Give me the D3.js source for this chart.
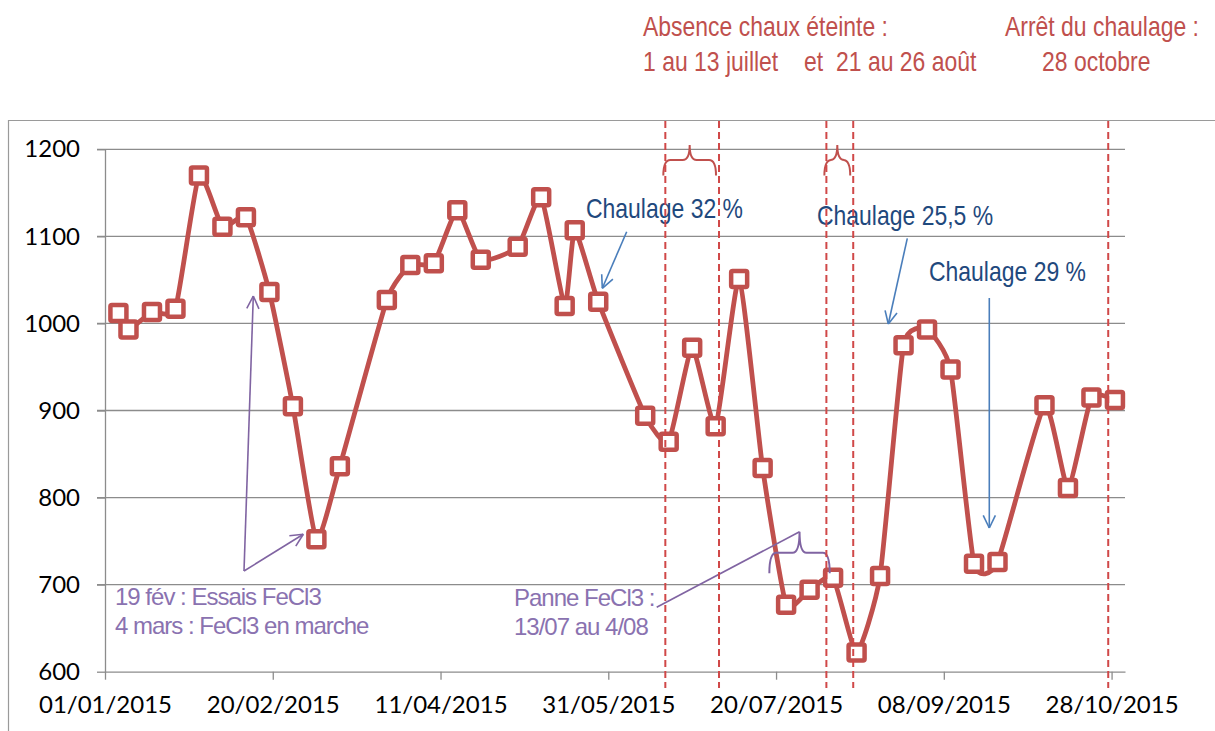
<!DOCTYPE html>
<html>
<head>
<meta charset="utf-8">
<script src="https://cdn.jsdelivr.net/npm/d3@7"></script>
<style>
  html, body { margin: 0; padding: 0; background: #ffffff; }
  svg { display: block; }
  .narrow { font-family: "Liberation Sans", Arial, sans-serif; }
  .tick text { font-family: Lato, "Open Sans", sans-serif; font-size: 24px; fill: #000; }
</style>
</head>
<body>
<script>
// ---------------- DATA ----------------
const dates = ["2015-01-05","2015-01-08","2015-01-15","2015-01-22","2015-01-29","2015-02-05","2015-02-12","2015-02-19","2015-02-26","2015-03-05","2015-03-12","2015-03-26","2015-04-02","2015-04-09","2015-04-16","2015-04-23","2015-05-04","2015-05-11","2015-05-18","2015-05-21","2015-05-28","2015-06-11","2015-06-18","2015-06-25","2015-07-02","2015-07-09","2015-07-16","2015-07-23","2015-07-30","2015-08-06","2015-08-13","2015-08-20","2015-08-27","2015-09-03","2015-09-10","2015-09-17","2015-09-24","2015-10-08","2015-10-15","2015-10-22","2015-10-29"];
const values = [1012, 993, 1013, 1017, 1170, 1111, 1122, 1036, 905, 752, 836, 1027, 1067, 1069, 1130, 1073, 1088, 1145, 1020, 1107, 1025, 894, 864, 972, 882, 1051, 834, 677, 694, 708, 622, 710, 975, 993, 947, 724, 726, 906, 811, 915, 912];
const threshold = 1000;
const yTicks = [600, 700, 800, 900, 1000, 1100, 1200];
const xTickDates = ["2015-01-01","2015-02-20","2015-04-11","2015-05-31","2015-07-20","2015-09-08","2015-10-28"];
const xDomain = ["2015-01-01","2015-11-01"];
const yDomain = [600, 1200];
// vertical dashed event lines (chaux éteinte absence / arrêt chaulage)
const eventDates = ["2015-06-17","2015-07-03","2015-08-04","2015-08-12","2015-10-27"];
// absence periods (braces) : pairs of event dates
const absencePeriods = [["2015-06-17","2015-07-03"],["2015-08-04","2015-08-12"]];
// FeCl3 breakdown period
const panneFeCl3 = ["2015-07-18","2015-08-05"];
const topTexts = ["Absence chaux éteinte :", "1 au 13 juillet", "et", "21 au 26 août", "Arrêt du chaulage :", "28 octobre"];
const chaulageLabels = ["Chaulage 32 %", "Chaulage 25,5 %", "Chaulage 29 %"];
const fecl3Labels = ["19 fév : Essais FeCl3", "4 mars : FeCl3 en marche"];
const panneLabels = ["Panne FeCl3 :", "13/07 au 4/08"];

// ---------------- SETUP ----------------
const W = 1215, H = 731;
const parse = s => new Date(s + "T00:00:00Z");
const data = dates.map((d, i) => ({ date: parse(d), value: values[i] }));

const RED = "#c0504d", BLUE_T = "#1f497d", BLUE_L = "#4a7ebb", PURPLE = "#8064a2", PURPLE_T = "#8a72b0", GRID = "#8c8c8c";

const svg = d3.select("body").append("svg").attr("width", W).attr("height", H);

const defs = svg.append("defs");
const f = defs.append("filter").attr("id", "shadow").attr("x", "-5%").attr("y", "-200%").attr("width", "110%").attr("height", "500%");
f.append("feGaussianBlur").attr("in", "SourceAlpha").attr("stdDeviation", 2).attr("result", "b");
f.append("feOffset").attr("in", "b").attr("dx", 1).attr("dy", 3).attr("result", "o");
f.append("feComponentTransfer").attr("in", "o").attr("result", "o2")
  .append("feFuncA").attr("type", "linear").attr("slope", 0.45);
const fm = f.append("feMerge");
fm.append("feMergeNode").attr("in", "o2");
fm.append("feMergeNode").attr("in", "SourceGraphic");

const x = d3.scaleUtc().domain(xDomain.map(parse)).range([105, 1125]);
const y = d3.scaleLinear().domain(yDomain).range([671.7, 149.3]);

// chart frame
svg.append("path").attr("d", "M8.5,731V120.5H1215").attr("fill", "none").attr("stroke", "#9a9a9a").attr("stroke-width", 1.2);

// gridlines
svg.append("g").selectAll("line").data(yTicks.filter(t => t !== 600)).join("line")
  .attr("x1", 97).attr("x2", x.range()[1])
  .attr("y1", d => y(d)).attr("y2", d => y(d))
  .attr("stroke", GRID).attr("stroke-width", 1.3);

// axes
const yAxis = svg.append("g").attr("transform", `translate(${x.range()[0]},0)`)
  .call(d3.axisLeft(y).tickValues(yTicks).tickFormat(d3.format("d")).tickSize(8).tickPadding(17).tickSizeOuter(0));
const xAxis = svg.append("g").attr("transform", `translate(0,${y.range()[0]})`)
  .call(d3.axisBottom(x).tickValues(xTickDates.map(parse)).tickFormat(d3.utcFormat("%d/%m/%Y")).tickSize(8).tickPadding(16).tickSizeOuter(0));
[yAxis, xAxis].forEach(a => {
  a.select(".domain").attr("stroke", GRID).attr("stroke-width", 1.3);
  a.selectAll(".tick line").attr("stroke", GRID).attr("stroke-width", 1.3);
  a.attr("font-family", null).attr("font-size", null);
});

// data line
const line = d3.line().x(d => x(d.date)).y(d => y(d.value)).curve(d3.curveCardinal.tension(0.5));
svg.append("path").datum(data).attr("d", line)
  .attr("fill", "none").attr("stroke", RED).attr("stroke-width", 4.8).attr("stroke-linejoin", "round");

// threshold line
svg.append("line").attr("x1", x.range()[0]).attr("x2", x.range()[1])
  .attr("y1", y(threshold)).attr("y2", y(threshold))
  .attr("stroke", RED).attr("stroke-width", 5.5).attr("filter", "url(#shadow)");

// markers
svg.append("g").selectAll("rect").data(data).join("rect")
  .attr("x", d => x(d.date) - 8).attr("y", d => y(d.value) - 8)
  .attr("width", 16).attr("height", 16).attr("rx", 1.5)
  .attr("fill", "#fff").attr("stroke", RED).attr("stroke-width", 4.5);

// helper: line with open arrow head
function arrow(g, x1, y1, x2, y2, color, head) {
  g.append("line").attr("x1", x1).attr("y1", y1).attr("x2", x2).attr("y2", y2)
    .attr("stroke", color).attr("stroke-width", 1.6);
  if (head) {
    const a = Math.atan2(y2 - y1, x2 - x1), L = 14;
    [-1, 1].forEach(s => {
      const b = a + Math.PI + s * 0.45;
      g.append("line").attr("x1", x2).attr("y1", y2)
        .attr("x2", x2 + L * Math.cos(b)).attr("y2", y2 + L * Math.sin(b))
        .attr("stroke", color).attr("stroke-width", 1.6);
    });
  }
}
// helper: curly brace opening downward
function brace(g, xa, xb, yTip, yMid, yEnd, color) {
  const xm = (xa + xb) / 2, r = 7;
  const p = `M${xa},${yEnd} Q${xa},${yMid} ${xa + r},${yMid} L${xm - r},${yMid} Q${xm},${yMid} ${xm},${yTip} Q${xm},${yMid} ${xm + r},${yMid} L${xb - r},${yMid} Q${xb},${yMid} ${xb},${yEnd}`;
  g.append("path").attr("d", p).attr("fill", "none").attr("stroke", color).attr("stroke-width", 2);
}
// helper: condensed text (Arial Narrow look)
function narrowText(g, labels, pos, color, cls) {
  g.selectAll("text." + cls).data(labels).join("text").attr("class", cls + " narrow")
    .attr("transform", (d, i) => `translate(${pos[i][0]},${pos[i][1]}) scale(0.82,1)`)
    .attr("font-size", 28).attr("fill", color).text(d => d);
}

const ann = svg.append("g");

// blue chaulage texts + arrows
narrowText(ann, chaulageLabels, [[586, 218], [817, 225], [929, 281]], BLUE_T, "ch");
arrow(ann, 626.7, 231.7, 602.3, 288.3, BLUE_L, true);
arrow(ann, 907.3, 238.3, 888.3, 324, BLUE_L, true);
arrow(ann, 989.3, 298, 989.3, 528, BLUE_L, true);

// purple FeCl3 annotations
ann.selectAll("text.fe").data(fecl3Labels).join("text").attr("class", "fe")
  .attr("x", 115).attr("y", (d, i) => 605 + i * 29)
  .attr("font-family", "Liberation Sans, Arial, sans-serif").attr("font-size", 24)
  .attr("letter-spacing", -1).attr("fill", PURPLE_T).text(d => d);
arrow(ann, 244, 571, 253.3, 296, PURPLE, true);
arrow(ann, 244, 571, 303.3, 534.3, PURPLE, true);

ann.selectAll("text.pa").data(panneLabels).join("text").attr("class", "pa")
  .attr("x", 514).attr("y", (d, i) => 606 + i * 29)
  .attr("font-family", "Liberation Sans, Arial, sans-serif").attr("font-size", 24)
  .attr("letter-spacing", -1).attr("fill", PURPLE_T).text(d => d);
const pxa = x(parse(panneFeCl3[0])), pxb = x(parse(panneFeCl3[1]));
brace(ann, pxa, pxb, 531.7, 552.7, 573.3, PURPLE);
arrow(ann, 656.7, 607.3, (pxa + pxb) / 2, 531.7, PURPLE, false);

// red braces for absence periods
absencePeriods.forEach(([a, b]) => {
  brace(ann, x(parse(a)) - 2, x(parse(b)) - 3, 145, 160, 175.5, RED);
});

// dashed event lines
svg.append("g").selectAll("line").data(eventDates).join("line")
  .attr("x1", d => x(parse(d))).attr("x2", d => x(parse(d)))
  .attr("y1", 121).attr("y2", 688)
  .attr("stroke", "#d04848").attr("stroke-width", 2).attr("stroke-dasharray", "7,4");

// top red texts
narrowText(svg.append("g"), topTexts, [[643, 36], [643, 71], [804, 71], [836, 71], [1005, 36], [1042, 71]], RED, "top");
</script>
</body>
</html>
